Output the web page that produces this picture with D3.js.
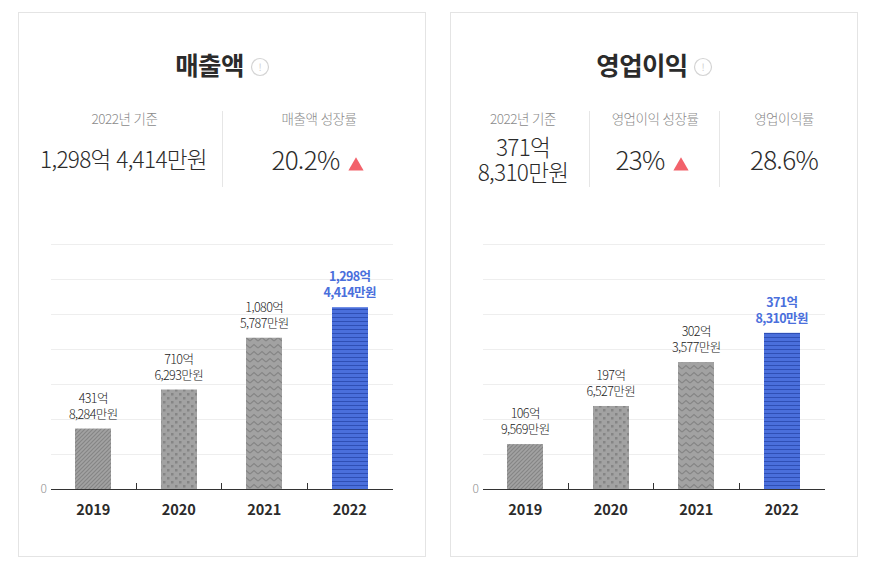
<!DOCTYPE html>
<html lang="ko"><head><meta charset="utf-8">
<script src="https://cdn.jsdelivr.net/npm/d3@7"></script>
<style>
html,body{margin:0;padding:0;background:#fff}
svg{display:block}
text{font-family:"Noto Sans CJK KR","Noto Sans",sans-serif}
</style></head><body><svg id="c" width="875" height="568"></svg>
<script>
const years = ["2019","2020","2021","2022"];
const revenueValues = [431.8284, 710.6293, 1080.5787, 1298.4414];
const revenueLabels = [["431억","8,284만원"],["710억","6,293만원"],["1,080억","5,787만원"],["1,298억","4,414만원"]];
const profitValues = [106.9569, 197.6527, 302.3577, 371.8310];
const profitLabels = [["106억","9,569만원"],["197억","6,527만원"],["302억","3,577만원"],["371억","8,310만원"]];
const revenueMax = 1750, profitMax = 583.3;
const gridSteps = [1,2,3,4,5,6,7];

const svg = d3.select("#c");
const defs = svg.append("defs");
const GREY="#a2a2a2", DARK="#858585", BLUE="#4a6fdc", BLUE2="#2f4fb5";

function pattern(id,w,h,bg,build){
  const p=defs.append("pattern").attr("id",id).attr("patternUnits","userSpaceOnUse").attr("width",w).attr("height",h);
  p.append("rect").attr("width",w).attr("height",h).attr("fill",bg);
  build(p);
}
pattern("p0",4,4,GREY,p=>p.append("path").attr("d","M-1,5L5,-1M-1,1L1,-1M3,5L5,3").attr("stroke",DARK).attr("stroke-width",1.2));
pattern("p1",8,8,GREY,p=>{p.append("rect").attr("x",1).attr("y",1).attr("width",2.5).attr("height",2.5).attr("fill",DARK);
  p.append("rect").attr("x",5).attr("y",5).attr("width",2.5).attr("height",2.5).attr("fill",DARK);});
pattern("p2",8,7,GREY,p=>p.append("path").attr("d","M0,5L4,1.5L8,5").attr("fill","none").attr("stroke",DARK).attr("stroke-width",1.2));
pattern("p3",6,4,BLUE,p=>p.append("rect").attr("y",1).attr("width",6).attr("height",1).attr("fill",BLUE2));

function twoLines(g,x,lines,ys,attrs){
  const t=g.append("text").attr("text-anchor","middle");
  Object.entries(attrs).forEach(([k,v])=>t.attr(k,v));
  lines.forEach((s,i)=>t.append("tspan").attr("x",x).attr("y",ys[i]).text(s));
}

function chartCard(cfg){
  const g=svg.append("g").attr("transform",`translate(${cfg.x},0)`);
  g.append("rect").attr("x",.5).attr("y",12.5).attr("width",407).attr("height",544)
    .attr("fill","#fff").attr("stroke","#e4e4e4");
  g.append("text").attr("x",cfg.titleX).attr("y",75).attr("text-anchor","middle")
    .attr("font-size",25.5).attr("font-weight",700).attr("fill","#2b2b2b").attr("letter-spacing",-.6).text(cfg.title);
  const ic=g.append("g").attr("transform",`translate(${cfg.iconX},67)`);
  ic.append("circle").attr("r",8.5).attr("fill","#fff").attr("stroke","#d4d4d4").attr("stroke-width",1.2);
  ic.append("text").attr("y",4).attr("text-anchor","middle").attr("font-size",10).attr("fill","#cfcfcf").text("!");

  cfg.dividers.forEach(x=>g.append("line").attr("x1",x+.5).attr("x2",x+.5).attr("y1",111).attr("y2",187).attr("stroke","#e6e6e6"));
  cfg.stats.forEach(s=>{
    g.append("text").attr("x",s.x).attr("y",124).attr("text-anchor","middle").attr("font-size",13.5)
      .attr("font-weight",300).attr("fill","#8a8a8a").attr("letter-spacing",-.5).text(s.label);
    twoLines(g,s.vx===undefined?s.x:s.vx,s.lines,s.ys,{"font-size":s.size,"font-weight":300,"fill":"#2b2b2b","letter-spacing":-.7});
    if(s.tri){
      g.append("path").attr("transform",`translate(${s.tri},166)`).attr("d",d3.symbol(d3.symbolTriangle,100)()).attr("fill","#f2626b");
    }
  });

  const L=33,R=375,B=489,plotH=245;
  const x=d3.scaleBand().domain(years).range([L,R]);
  const y=d3.scaleLinear().domain([0,cfg.max]).range([B,B-plotH]);
  g.selectAll(".grid").data(gridSteps).join("line").attr("class","grid")
    .attr("x1",L).attr("x2",R)
    .attr("y1",d=>Math.round(y(cfg.max*d/7))+.5).attr("y2",d=>Math.round(y(cfg.max*d/7))+.5)
    .attr("stroke","#eeeeee");

  const bw=36;
  g.selectAll(".bar").data(cfg.values).join("rect").attr("class","bar")
    .attr("x",(d,i)=>Math.floor(x(years[i])+x.bandwidth()/2-bw/2))
    .attr("width",bw).attr("y",d=>y(d)).attr("height",d=>B-y(d))
    .attr("fill",(d,i)=>`url(#p${i})`);

  g.append("line").attr("x1",L).attr("x2",R).attr("y1",B+.5).attr("y2",B+.5).attr("stroke","#333");
  years.slice(1).forEach(v=>{
    const tx=Math.round(x(v))-.5;
    g.append("line").attr("x1",tx).attr("x2",tx).attr("y1",B-6).attr("y2",B).attr("stroke","#333");
  });
  g.append("text").attr("x",L-4).attr("y",B+4).attr("text-anchor","end").attr("font-size",12).attr("font-weight",300).attr("fill","#8f8f8f").text("0");
  g.selectAll(".yr").data(years).join("text").attr("class","yr")
    .attr("x",d=>x(d)+x.bandwidth()/2-.5).attr("y",515).attr("text-anchor","middle")
    .attr("font-size",14.5).attr("font-weight",700).attr("fill","#2b2b2b").text(d=>d);

  cfg.labels.forEach((ls,i)=>{
    const cx=x(years[i])+x.bandwidth()/2-.5, top=y(cfg.values[i]), last=i===3;
    twoLines(g,cx,ls,[top-26,top-10],{"font-size":12.5,"letter-spacing":-.6,
      "font-weight":last?700:300,"fill":last?"#4a6fdc":"#222"});
  });
}

chartCard({x:18,title:"매출액",titleX:191.5,iconX:242,max:revenueMax,values:revenueValues,labels:revenueLabels,
  dividers:[204],
  stats:[
    {x:106.5,vx:105.5,label:"2022년 기준",lines:["1,298억 4,414만원"],ys:[168],size:22.6},
    {x:301,vx:287.5,label:"매출액 성장률",lines:["20.2%"],ys:[170],size:26,tri:338}
  ]});
chartCard({x:450,title:"영업이익",titleX:192,iconX:253,max:profitMax,values:profitValues,labels:profitLabels,
  dividers:[139,269],
  stats:[
    {x:73,label:"2022년 기준",lines:["371억","8,310만원"],ys:[156,181],size:22.6},
    {x:205,vx:190,label:"영업이익 성장률",lines:["23%"],ys:[170],size:26,tri:231},
    {x:334,label:"영업이익률",lines:["28.6%"],ys:[170],size:26}
  ]});
</script></body></html>
